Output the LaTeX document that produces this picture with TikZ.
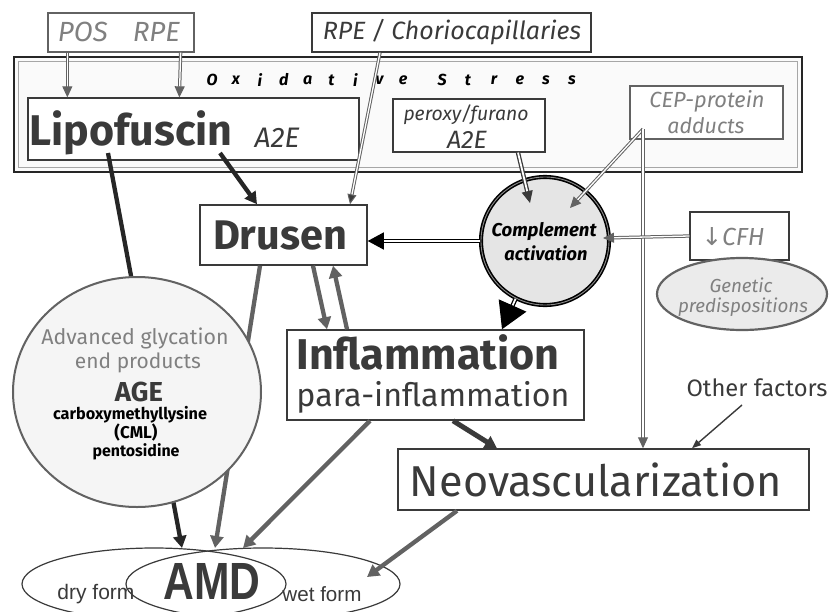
\documentclass[tikz,border=0pt]{standalone}
\usepackage{fontspec}
\setmainfont{Fira Sans}
\newfontfamily\arialf{Liberation Sans}
\newfontfamily\djv{DejaVu Sans}
\usetikzlibrary{arrows.meta,shapes.geometric}
\definecolor{dk}{HTML}{3A3A3A}
\definecolor{md}{HTML}{626262}
\definecolor{lt}{HTML}{808080}
\newcommand{\fw}[2]{\resizebox{#1pt}{!}{#2}}
\begin{document}
\begin{tikzpicture}[x=1pt,y=-1pt,
  lbl/.style={inner sep=0pt, anchor=center},
  boxst/.style={draw=dk, line width=1.3pt, fill=white, inner sep=0pt},
  gboxst/.style={draw=md, line width=1.3pt, fill=white, inner sep=0pt},
  thickarr/.style={draw=dk, line width=4.3pt, -{Triangle[length=12pt,width=13pt]}},
  blkarr/.style={draw=black!85, line width=4.3pt, -{Triangle[length=12pt,width=13pt]}},
  graydbl/.style={draw=md, double=white, double distance=1.3pt, line width=1pt, -{Triangle[length=11pt,width=10pt]}},
  blkdbl/.style={draw=black, double=white, double distance=1.8pt, line width=1.3pt},
  thinarr/.style={draw=dk, line width=1.4pt, -{Triangle[length=9pt,width=7pt]}},
  oxl/.style={lbl, font=\fontsize{16}{16}\selectfont\bfseries\itshape}
]
\useasboundingbox (0,0) rectangle (833,611);
\fill[white] (0,0) rectangle (833,611);

% oxidative stress frame
\node[draw=black!85, line width=2.8pt, fill=white!98!black, minimum width=788pt, minimum height=115pt, inner sep=0pt] (ox) at (408,114.5) {};
\node[draw=gray!70, line width=1.1pt, minimum width=779pt, minimum height=106pt, inner sep=0pt] (oxin) at (408,114.5) {};
\foreach \c [count=\i from 0] in {O,x,i,d,a,t,i,v,e}
  \node[oxl] (oxa\i) at (212+23.9*\i,80) {\c};
\foreach \c [count=\i from 0] in {S,t,r,e,s,s}
  \node[oxl] (oxb\i) at (442+26*\i,80) {\c};

% boxes
\node[gboxst, minimum width=146pt, minimum height=39pt] (bPOS) at (121,32.5) {};
\node[boxst, minimum width=279pt, minimum height=39pt] (bRPEC) at (451.5,32.5) {};
\node[boxst, minimum width=331pt, minimum height=62pt] (bLip) at (193.5,129) {};
\node[boxst, minimum width=152pt, minimum height=53pt] (bPer) at (469,125.5) {};
\node[gboxst, minimum width=153pt, minimum height=53pt] (bCEP) at (706.5,112.5) {};
\node[boxst, line width=1.5pt, minimum width=167pt, minimum height=60pt] (bDru) at (283.5,235) {};
\node[boxst, minimum width=99pt, minimum height=48pt] (bCFH) at (739.5,236) {};
\node[ellipse, draw=md, line width=2.2pt, fill=black!8, minimum width=170pt, minimum height=72pt, inner sep=0pt] (gen) at (742,294) {};
\node[boxst, line width=1.5pt, minimum width=297pt, minimum height=90pt] (bInf) at (435.5,375) {};
\node[boxst, line width=1.5pt, minimum width=411pt, minimum height=61pt] (bNeo) at (603.5,479.5) {};
\node[ellipse, draw=dk, line width=1.2pt, minimum width=264pt, minimum height=72pt, inner sep=0pt] (amdL) at (154,584) {};
\node[ellipse, draw=dk, line width=1.2pt, minimum width=274pt, minimum height=72pt, inner sep=0pt] (amdR) at (263,584) {};
\node[circle, draw=black, double=black!45, double distance=0.9pt, line width=1.6pt, fill=black!10, minimum size=128pt, inner sep=0pt] (comp) at (545,241) {};

% coordinates
\coordinate (lipA) at (108,153);
\coordinate (lipB) at (220,153);
\coordinate (amdA) at (182,548);
\coordinate (amdB) at (215,548);
\coordinate (amdC) at (243,548);
\coordinate (amdD) at (367,577);
\coordinate (cin1) at (530,203);
\coordinate (cin2) at (570,208);
\coordinate (cin3) at (603,238);
\coordinate (cepA) at (643,129);
\coordinate (othA) at (742,405);

% lines to AMD behind AGE
\draw[blkarr] (lipA) -- (amdA);
\draw[thickarr, draw=md] ([xshift=-23.5pt]bDru.south) -- (amdB);

% AGE ellipse
\node[ellipse, draw=md, line width=2pt, fill=black!4, minimum width=248pt, minimum height=230pt, inner sep=0pt] (age) at (137,392) {};

% texts
\node[lbl, text=lt] (tPOS) at (119,32) {\fw{122}{\itshape POS\hspace{0.9em}RPE}};
\node[lbl, text=dk] (tRPEC) at (452,32) {\fw{258}{\itshape RPE / Choriocapillaries}};
\node[lbl, text=dk] (tLip) at (131,133) {\fw{203}{\bfseries Lipofuscin}};
\node[lbl, text=dk] (tA2Ea) at (277,138) {\fw{45}{\itshape A2E}};
\node[lbl, text=dk] (tPer) at (466,115) {\fw{125}{\itshape peroxy/furano}};
\node[lbl, text=dk] (tA2Eb) at (467,140) {\fw{40}{\itshape A2E}};
\node[lbl, text=lt] (tCEP) at (707,101) {\fw{115}{\itshape CEP-protein}};
\node[lbl, text=lt] (tAdd) at (706,126) {\fw{77}{\itshape adducts}};
\node[lbl, text=dk] (tDru) at (280,235) {\fw{134}{\bfseries Drusen}};
\node[lbl, text=black] (tCom) at (544,232) {\fw{105}{\bfseries\itshape Complement}};
\node[lbl, text=black] (tAct) at (546,253) {\fw{83}{\bfseries\itshape activation}};
\node[lbl, text=lt] (tCFH) at (733,237) {\fw{63}{{\djv ↓}\itshape CFH}};
\node[lbl, text=lt] (tGen) at (741,285) {\fw{63}{\itshape Genetic}};
\node[lbl, text=lt] (tPred) at (743,307) {\fw{130}{\itshape predispositions}};
\node[lbl, text=dk] (tInf) at (428,352) {\fw{263}{\bfseries Inflammation}};
\node[lbl, text=dk] (tPara) at (433,397) {\fw{273}{para-inflammation}};
\node[lbl, text=dk] (tOther) at (757,388) {\fw{141}{Other factors}};
\node[lbl, text=dk] (tNeo) at (596,480) {\fw{372}{Neovascularization}};
\node[lbl, text=lt] (tAdv) at (135,338) {\fw{187}{Advanced glycation}};
\node[lbl, text=lt] (tEnd) at (138,363) {\fw{126}{end products}};
\node[lbl, text=dk] (tAGE) at (139,392) {\fw{48}{\bfseries AGE}};
\node[lbl, text=black] (tCarb) at (130,415) {\fw{154}{\bfseries carboxymethyllysine}};
\node[lbl, text=black] (tCML) at (136,433) {\fw{43}{\bfseries (CML)}};
\node[lbl, text=black] (tPent) at (136,452) {\fw{87}{\bfseries pentosidine}};
\node[lbl, text=dk] (tAMD) at (212,581) {\resizebox{97pt}{36pt}{\arialf\bfseries AMD}};
\node[lbl, text=dk] (tDry) at (96,594) {\fw{77}{\arialf dry form}};
\node[lbl, text=dk] (tWet) at (322,594) {\fw{79}{\arialf wet form}};

% connectors
\draw[graydbl] ([xshift=20pt]bPOS.south west) -- ([xshift=40pt]bLip.north west);
\draw[graydbl] ([xshift=-14pt]bPOS.south east) -- ([xshift=152pt]bLip.north west);
\draw[graydbl, -{Triangle[length=10pt,width=9pt,fill=dk]}] ([xshift=-71.5pt]bRPEC.south) -- ([xshift=66.5pt]bDru.north);
\draw[blkarr] (lipB) -- ([xshift=-26.5pt]bDru.north);
\draw[blkdbl, draw=dk, -{Triangle[length=12pt,width=11pt]}] ([xshift=49pt]bPer.south) -- (cin1);
\draw[graydbl] (cepA) -- (cin2);
\draw[graydbl] (cepA) -- ([xshift=39.5pt]bNeo.north);
\draw[graydbl] (bCFH.west) -- (cin3);
\draw[blkdbl, -{Triangle[length=16pt,width=17pt]}] (comp.west) -- (comp.west -| bDru.east);
\draw[blkdbl, -{Triangle[length=26pt,width=30pt]}] (comp.243) -- ([xshift=66.5pt]bInf.north);
\draw[thickarr, draw=md] ([xshift=29.5pt]bDru.south) -- ([xshift=-108.5pt]bInf.north);
\draw[thickarr, draw=md] ([xshift=-88.5pt]bInf.north) -- ([xshift=49.5pt]bDru.south);
\draw[thickarr, line width=5pt] ([xshift=17.5pt]bInf.south) -- ([xshift=-106.5pt]bNeo.north);
\draw[thickarr, draw=md] ([xshift=-65.5pt]bInf.south) -- (amdC);
\draw[thickarr, draw=md] ([xshift=-146.5pt]bNeo.south) -- (amdD);
\draw[thinarr] (othA) -- ([xshift=88.5pt]bNeo.north);
\end{tikzpicture}
\end{document}
